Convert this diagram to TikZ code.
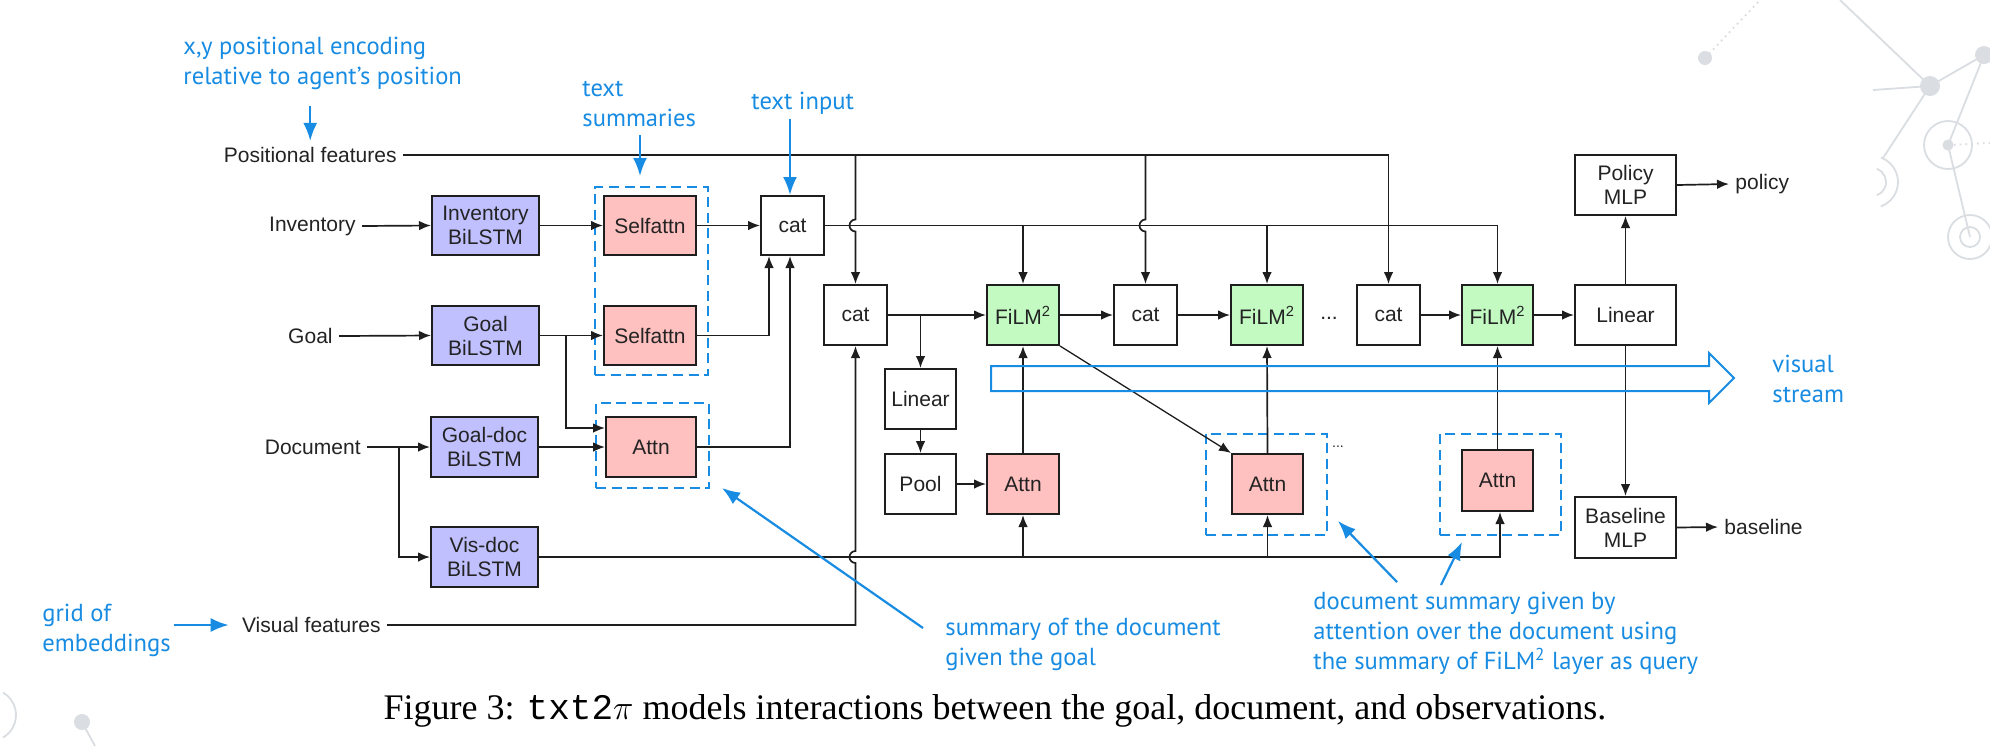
\documentclass[tikz,border=0pt]{standalone}
\usepackage{fontspec}
\setmainfont{Liberation Sans}
\newfontfamily\annfont{PT Sans}
\newfontfamily\capserif{Liberation Serif}
\newfontfamily\capmono{Liberation Mono}
\usetikzlibrary{arrows.meta,calc}
\definecolor{lav}{RGB}{192,192,255}
\definecolor{pnk}{RGB}{255,192,192}
\definecolor{grn}{RGB}{194,250,194}
\definecolor{annc}{RGB}{24,140,226}
\definecolor{txtc}{RGB}{35,35,35}
\definecolor{linec}{RGB}{30,30,30}
\definecolor{decoc}{RGB}{218,222,226}
\newcommand{\dfont}{\fontsize{10.5pt}{12pt}\selectfont}
\newcommand{\afont}{\annfont\fontsize{12.3pt}{15pt}\selectfont}
\begin{document}
\begin{tikzpicture}[x=0.5pt,y=-0.5pt,
  box/.style={draw=linec, line width=1pt, inner sep=0pt, align=center, font=\dfont, text=txtc},
  lbl/.style={font=\dfont, text=txtc, inner sep=3pt},
  arr/.style={draw=linec, line width=0.85pt, -{Latex[length=6pt,width=4.8pt]}},
  annarr/.style={draw=annc, line width=1.1pt, -{Latex[length=9pt,width=7pt]}},
  annt/.style={font=\afont, text=annc, align=left, inner sep=0pt, anchor=west},
  dbox/.style={draw=annc, line width=1pt, dash pattern=on 5pt off 2.8pt, inner sep=0pt},
  deco/.style={draw=decoc, line width=0.9pt},
]
\fill[white] (0,0) rectangle (1990,746);
\useasboundingbox (0,0) rectangle (1990,746);

% ---- background decoration
\draw[deco] (1840,0) -- (1930,86) -- (1984,55) -- (1948,145) -- (1970,237);
\draw[deco] (1873,90) -- (1930,86) -- (1883,158);
\draw[deco, dotted] (1948,145) -- (1990,143);
\draw[deco, dotted] (1705,58) -- (1760,0);
\fill[decoc] (1930,86) circle[radius=5pt];
\fill[decoc] (1984,55) circle[radius=4.5pt];
\fill[decoc] (1948,145) circle[radius=2.8pt];
\draw[deco] (1948,145) circle[radius=12pt];
\draw[deco] (1970,237) circle[radius=11pt];
\draw[deco] (1970,237) circle[radius=5pt];
\draw[deco] (1872,182) ++(-70:14) arc[start angle=-70,end angle=70,radius=14];
\draw[deco] (1872,182) ++(-70:26) arc[start angle=-70,end angle=70,radius=26];
\fill[decoc] (1705,58) circle[radius=3.5pt];
\draw[deco] (82,722) -- (95,746);
\fill[decoc] (82,722) circle[radius=4pt];
\draw[deco] (-10,715) ++(-60:26) arc[start angle=-60,end angle=60,radius=26];

% ---- dashed annotation boxes
\node[dbox, minimum width=56.5pt, minimum height=94pt] (dash1) at (651.5,281) {};
\node[dbox, minimum width=56.5pt, minimum height=42.5pt] (dash2) at (652.5,445.5) {};
\node[dbox, minimum width=60.5pt, minimum height=50.5pt] (dash3) at (1266.5,484.5) {};
\node[dbox, minimum width=60.5pt, minimum height=50.5pt] (dash4) at (1500.5,484.5) {};

% ---- input labels
\node[lbl, anchor=east] (posf) at (403,155) {Positional features};
\node[lbl, anchor=east] (invl) at (362,226) {Inventory};
\node[lbl, anchor=east] (goall) at (339,336) {Goal};
\node[lbl, anchor=east] (docl) at (367,447) {Document};
\node[lbl, anchor=east] (visf) at (387,625) {Visual features};

% ---- encoder boxes
\node[box, fill=lav, minimum width=53.5pt, minimum height=29.5pt] (invB) at (485.5,225.5) {Inventory\\BiLSTM};
\node[box, fill=lav, minimum width=53.5pt, minimum height=29.5pt] (goalB) at (485.5,335.5) {Goal\\BiLSTM};
\node[box, fill=lav, minimum width=53.5pt, minimum height=30pt] (gdocB) at (484.5,447) {Goal-doc\\BiLSTM};
\node[box, fill=lav, minimum width=53.5pt, minimum height=30pt] (visB) at (484.5,557) {Vis-doc\\BiLSTM};
\node[box, fill=pnk, minimum width=46pt, minimum height=29.5pt] (sa1) at (650,225.5) {Selfattn};
\node[box, fill=pnk, minimum width=46pt, minimum height=29.5pt] (sa2) at (650,335.5) {Selfattn};
\node[box, fill=pnk, minimum width=45pt, minimum height=30pt] (attn0) at (651,447) {Attn};
\node[box, minimum width=31.5pt, minimum height=29.5pt] (cat1) at (792.5,225.5) {cat};

% ---- main stream
\node[box, minimum width=31.5pt, minimum height=30pt] (cat2) at (855.5,315) {cat};
\node[box, fill=grn, minimum width=36pt, minimum height=30pt] (film1) at (1023,315) {FiLM\textsuperscript{2}};
\node[box, minimum width=31.5pt, minimum height=30pt] (cat3) at (1145.5,315) {cat};
\node[box, fill=grn, minimum width=36pt, minimum height=30pt] (film2) at (1267,315) {FiLM\textsuperscript{2}};
\node[lbl] (dots1) at (1329,318) {...};
\node[box, minimum width=31.5pt, minimum height=30pt] (cat4) at (1388.5,315) {cat};
\node[box, fill=grn, minimum width=35.5pt, minimum height=30pt] (film3) at (1497.5,315) {FiLM\textsuperscript{2}};
\node[box, minimum width=50.5pt, minimum height=30pt] (lin) at (1625.5,315) {Linear};
\node[box, minimum width=50.5pt, minimum height=30pt] (pol) at (1625.5,185) {Policy\\MLP};
\node[box, minimum width=50.5pt, minimum height=30.5pt] (base) at (1625.5,527.5) {Baseline\\MLP};
\node[lbl, anchor=west] (poll) at (1729,184) {policy};
\node[lbl, anchor=west] (basel) at (1718,527) {baseline};

\node[box, minimum width=35.5pt, minimum height=30pt] (linS) at (920.5,399) {Linear};
\node[box, minimum width=35.5pt, minimum height=30pt] (pool) at (920.5,484) {Pool};
\node[box, fill=pnk, minimum width=36pt, minimum height=30pt] (attn1) at (1023,484) {Attn};
\node[box, fill=pnk, minimum width=35.5pt, minimum height=30pt] (attn2) at (1267.5,484) {Attn};
\node[box, fill=pnk, minimum width=35.5pt, minimum height=30.5pt] (attn3) at (1497.5,480.5) {Attn};
\node[font=\fontsize{7pt}{8pt}\selectfont, text=txtc, inner sep=0pt] (dots2) at (1338,447) {...};

% ---- text encoders
\draw[arr] (invl.east) -- (invB.west);
\draw[arr] (goall.east) -- (goalB.west);
\draw[arr] (docl.east) -- (gdocB.west);
\coordinate (db) at (399,447);
\draw[arr] (db) |- (visB.west);
\draw[arr] (invB.east) -- (sa1.west);
\draw[arr] (goalB.east) -- (sa2.west);
\coordinate (gb) at (566,335.5);
\draw[arr] (gb) |- ($(attn0.west)+(0,-19)$);
\draw[arr] (gdocB.east) -- (attn0.west);
\draw[arr] (sa1.east) -- (cat1.west);
\draw[arr] (sa2.east) -| ($(cat1.south)+(-23.5,0)$);
\draw[arr] (attn0.east) -| ($(cat1.south)+(-2.5,0)$);

% ---- positional features
\draw[arr] (posf.east) -- (cat4.north |- posf.east) -- (cat4.north);
\draw[arr] (cat2.north |- posf.east) -- ($(cat2.north |- cat1.east)+(0,-6)$) arc[start angle=270,end angle=90,radius=6] -- (cat2.north);
\draw[arr] (cat3.north |- posf.east) -- ($(cat3.north |- cat1.east)+(0,-6)$) arc[start angle=270,end angle=90,radius=6] -- (cat3.north);

% ---- text input line
\draw[arr] (cat1.east) -- (film3.north |- cat1.east) -- (film3.north);
\draw[arr] (film1.north |- cat1.east) -- (film1.north);
\draw[arr] (film2.north |- cat1.east) -- (film2.north);

% ---- visual features
\draw[arr] (visf.east) -- (cat2.south |- visf.east) -- ($(cat2.south |- visB.east)+(0,6)$) arc[start angle=90,end angle=270,radius=6] -- (cat2.south);

% ---- vis-doc
\draw[arr] (visB.east) -- ($(attn3.south |- visB.east)+(2.5,0)$) -- ($(attn3.south)+(2.5,0)$);
\draw[arr] (attn1.south |- visB.east) -- (attn1.south);
\draw[arr] (attn2.south |- visB.east) -- (attn2.south);

% ---- main stream connections
\draw[arr] (cat2.east) -- (film1.west);
\draw[arr] (linS.north |- cat2.east) -- (linS.north);
\draw[arr] (linS.south) -- (pool.north);
\draw[arr] (pool.east) -- (attn1.west);
\draw[arr] (attn1.north) -- (film1.south);
\draw[arr] (film1.east) -- (cat3.west);
\draw[arr] (cat3.east) -- (film2.west);
\draw[arr] (attn2.north) -- (film2.south);
\draw[arr] (cat4.east) -- (film3.west);
\draw[arr] (attn3.north) -- (film3.south);
\draw[arr] (film3.east) -- (lin.west);
\draw[arr] (lin.north) -- (pol.south);
\draw[arr] (lin.south) -- (base.north);
\draw[arr] (pol.east) -- (poll.west);
\draw[arr] (base.east) -- (basel.west);
\draw[arr, line width=0.65pt] (film1.south east) -- (attn2.north west);

% ---- visual stream arrow
\draw[draw=annc, line width=1pt, line join=miter] (991,366) -- (1709,366) -- (1709,353) -- (1734,378) -- (1709,403) -- (1709,391) -- (991,391) -- cycle;

% ---- annotations
\node[annt] (a1) at (183,63.5) {x,y positional encoding\\relative to agent’s position};
\coordinate (a1s) at (0,106);
\draw[annarr] (posf.north |- a1s) -- (posf.north);
\node[annt] (a2) at (582,103.5) {text\\summaries};
\coordinate (a2s) at (640,135);
\draw[annarr, shorten >=5pt] (a2s) -- (a2s |- dash1.north);
\node[annt] (a3) at (751,103) {text input};
\coordinate (a3s) at (790,119);
\draw[annarr] (a3s) -- (a3s |- cat1.north);
\node[annt] (a4) at (1772,378.5) {visual\\stream};
\node[annt] (a5) at (42,630) {grid of\\embeddings};
\coordinate (a5s) at (174,625);
\draw[annarr, shorten >=3.5pt] (a5s) -- (a5s -| visf.west);
\node[annt] (a6) at (945,644) {summary of the document\\given the goal};
\coordinate (a6s) at (923,628);
\coordinate (a6e) at (722,488);
\draw[annarr] (a6s) -- (a6e);
\node[annt] (a7) at (1313,633) {document summary given by\\attention over the document using\\the summary of FiLM\textsuperscript{2} layer as query};
\coordinate (a7s) at (1397,582);
\coordinate (a7e) at (1338,521);
\coordinate (a7t) at (1441,585);
\coordinate (a7f) at (1462,542);
\draw[annarr] (a7s) -- (a7e);
\draw[annarr] (a7t) -- (a7f);

% ---- caption
\node[font=\capserif\fontsize{18pt}{22pt}\selectfont, text=black, inner sep=0pt] (cap) at (995,711) {Figure 3: {\capmono txt2}$\pi$ models interactions between the goal, document, and observations.};
\end{tikzpicture}
\end{document}
